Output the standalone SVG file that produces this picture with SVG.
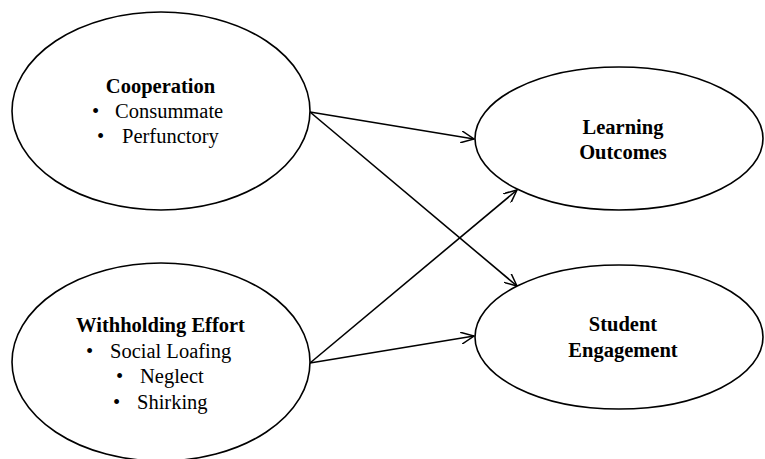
<svg xmlns="http://www.w3.org/2000/svg" width="765" height="459" viewBox="0 0 765 459">
<style>
.node{fill:#fff;stroke:#000;stroke-width:1.6}
.t{font-family:"Liberation Serif","Times New Roman",serif;font-size:20.5px;fill:#000}
.b{font-weight:bold}
.c{text-anchor:middle}
.e{stroke:#000;stroke-width:1.6;fill:none}
</style>
<defs>
<marker id="arr" viewBox="0 0 14 12" refX="13" refY="6" markerWidth="14" markerHeight="12" markerUnits="userSpaceOnUse" orient="auto">
<path d="M0,0 L13,6 L0,12" fill="none" stroke="#000" stroke-width="1.5"/>
</marker>
</defs>
<rect width="765" height="459" fill="#fff"/>
<g id="connectors">
<line class="e" x1="310" y1="112" x2="474" y2="139" marker-end="url(#arr)"/>
<line class="e" x1="310" y1="112" x2="517" y2="286" marker-end="url(#arr)"/>
<line class="e" x1="310" y1="363" x2="517" y2="190" marker-end="url(#arr)"/>
<line class="e" x1="310" y1="363" x2="474" y2="336" marker-end="url(#arr)"/>
</g>
<g id="cooperation">
<ellipse class="node" cx="161" cy="111" rx="149" ry="99"/>
<text class="t b c" x="160.5" y="93">Cooperation</text>
<text class="t" x="92" y="118">•</text>
<text class="t" x="115" y="118">Consummate</text>
<text class="t" x="97" y="143">•</text>
<text class="t" x="122" y="143">Perfunctory</text>
</g>
<g id="withholding">
<ellipse class="node" cx="161" cy="362" rx="149" ry="99"/>
<text class="t b c" x="160.5" y="332">Withholding Effort</text>
<text class="t" x="86" y="358">•</text>
<text class="t" x="110" y="358">Social Loafing</text>
<text class="t" x="116" y="383">•</text>
<text class="t" x="140" y="383">Neglect</text>
<text class="t" x="113" y="409">•</text>
<text class="t" x="137" y="409">Shirking</text>
</g>
<g id="learning">
<ellipse class="node" cx="619" cy="138.5" rx="144" ry="71.5"/>
<text class="t b c" x="623" y="134">Learning</text>
<text class="t b c" x="623" y="159">Outcomes</text>
</g>
<g id="engagement">
<ellipse class="node" cx="619" cy="337" rx="144" ry="72"/>
<text class="t b c" x="623" y="331">Student</text>
<text class="t b c" x="623" y="357">Engagement</text>
</g>
</svg>
